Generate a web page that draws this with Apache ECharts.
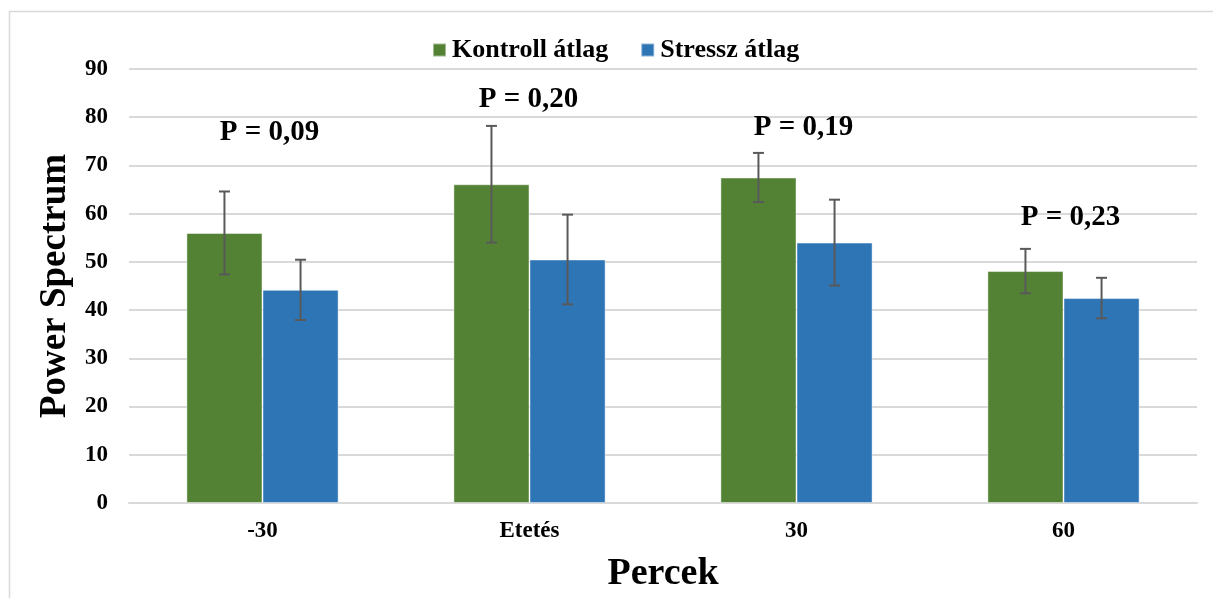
<!DOCTYPE html>
<html>
<head>
<meta charset="utf-8">
<script src="https://cdn.jsdelivr.net/npm/echarts@6/dist/echarts.min.js"></script>
<style>
html,body{margin:0;padding:0;background:#fff;}
#chart{width:1213px;height:598px;}
</style>
</head>
<body>
<div id="chart"></div>
<script>
const categories = ['-30', 'Etetés', '30', '60'];
const kontroll = [56.0, 66.1, 67.5, 48.1];
const kontrollErr = [8.6, 12.1, 5.1, 4.6];
const stressz = [44.2, 50.5, 54.0, 42.5];
const stresszErr = [6.25, 9.3, 8.9, 4.2];
const pLabels = ['P = 0,09', 'P = 0,20', 'P = 0,19', 'P = 0,23'];
const pLabelY = [76.8, 83.6, 77.8, 59.3];
const pLabelDx = [7, -1, 7, 7];
const yTicks = [0, 10, 20, 30, 40, 50, 60, 70, 80, 90];

const FONT = '"Liberation Serif", "Times New Roman", serif';
const GREEN = '#548235';
const BLUE = '#2E75B6';
const BAR_FRAC = 0.285;

function errRenderer(sign) {
  return function (params, api) {
    const xi = api.value(0);
    const lo = api.value(1);
    const hi = api.value(2);
    const band = api.size([1, 0])[0];
    const dx = sign * band * BAR_FRAC / 2;
    const top = api.coord([xi, hi]);
    const bot = api.coord([xi, lo]);
    const x = top[0] + dx;
    const cap = 5.5;
    const style = { stroke: '#595959', lineWidth: 2 };
    return {
      type: 'group',
      children: [
        { type: 'line', shape: { x1: x, y1: top[1], x2: x, y2: bot[1] }, style: style },
        { type: 'line', shape: { x1: x - cap, y1: top[1], x2: x + cap, y2: top[1] }, style: style },
        { type: 'line', shape: { x1: x - cap, y1: bot[1], x2: x + cap, y2: bot[1] }, style: style }
      ]
    };
  };
}

const chart = echarts.init(document.getElementById('chart'), null, { renderer: 'canvas' });
chart.setOption({
  animation: false,
  backgroundColor: '#fff',
  textStyle: { fontFamily: FONT },
  graphic: [{
    type: 'rect',
    left: 7, top: 9,
    shape: { width: 1230, height: 620 },
    style: { fill: 'none', stroke: '#d9d9d9', lineWidth: 1.5 },
    silent: true
  }],
  legend: {
    data: ['Kontroll átlag', 'Stressz átlag'],
    left: 427, top: 32,
    itemWidth: 13, itemHeight: 13, itemGap: 32,
    icon: 'rect',
    textStyle: { fontFamily: FONT, fontSize: 26, fontWeight: 'bold', color: '#000', padding: [0, 0, 0, 1] }
  },
  grid: { left: 129, right: 16, top: 69, bottom: 92, containLabel: false },
  xAxis: {
    type: 'category',
    data: categories,
    name: 'Percek',
    nameLocation: 'middle',
    nameGap: 52,
    nameTextStyle: { fontFamily: FONT, fontSize: 38, fontWeight: 'bold', color: '#000' },
    axisLine: { lineStyle: { color: '#d9d9d9', width: 2 } },
    axisTick: { show: false },
    axisLabel: { margin: 17, fontFamily: FONT, fontSize: 23, fontWeight: 'bold', color: '#000' }
  },
  yAxis: {
    type: 'value',
    min: yTicks[0], max: yTicks[yTicks.length - 1], interval: 10,
    name: 'Power Spectrum',
    nameLocation: 'middle',
    nameGap: 50,
    nameTextStyle: { fontFamily: FONT, fontSize: 37, fontWeight: 'bold', color: '#000' },
    axisLine: { show: false },
    axisTick: { show: false },
    splitLine: { lineStyle: { color: '#d9d9d9', width: 2 } },
    axisLabel: { margin: 21, fontFamily: FONT, fontSize: 23, fontWeight: 'bold', color: '#000' }
  },
  series: [
    {
      name: 'Kontroll átlag', type: 'bar', data: kontroll,
      barWidth: (BAR_FRAC * 100) + '%', barGap: '0%',
      itemStyle: { color: GREEN, borderColor: 'rgba(255,255,255,0.45)', borderWidth: 1 }
    },
    {
      name: 'Stressz átlag', type: 'bar', data: stressz,
      barWidth: (BAR_FRAC * 100) + '%', barGap: '0%',
      itemStyle: { color: BLUE, borderColor: 'rgba(255,255,255,0.45)', borderWidth: 1 }
    },
    {
      name: 'kontrollErr', type: 'custom', z: 5,
      renderItem: errRenderer(-1),
      data: kontroll.map((v, i) => [i, v - kontrollErr[i], v + kontrollErr[i]])
    },
    {
      name: 'stresszErr', type: 'custom', z: 5,
      renderItem: errRenderer(1),
      data: stressz.map((v, i) => [i, v - stresszErr[i], v + stresszErr[i]])
    },
    {
      name: 'pValues', type: 'scatter', z: 6, symbolSize: 0, silent: true,
      itemStyle: { color: '#000', opacity: 1 },
      data: pLabelY.map((y, i) => ({
        value: [i, y],
        label: {
          show: true, position: 'inside', offset: [pLabelDx[i], 0],
          formatter: pLabels[i],
          fontFamily: FONT, fontSize: 29, fontWeight: 'bold', color: '#000',
          textBorderWidth: 0, textBorderColor: 'transparent'
        }
      }))
    }
  ]
});
</script>
</body>
</html>
